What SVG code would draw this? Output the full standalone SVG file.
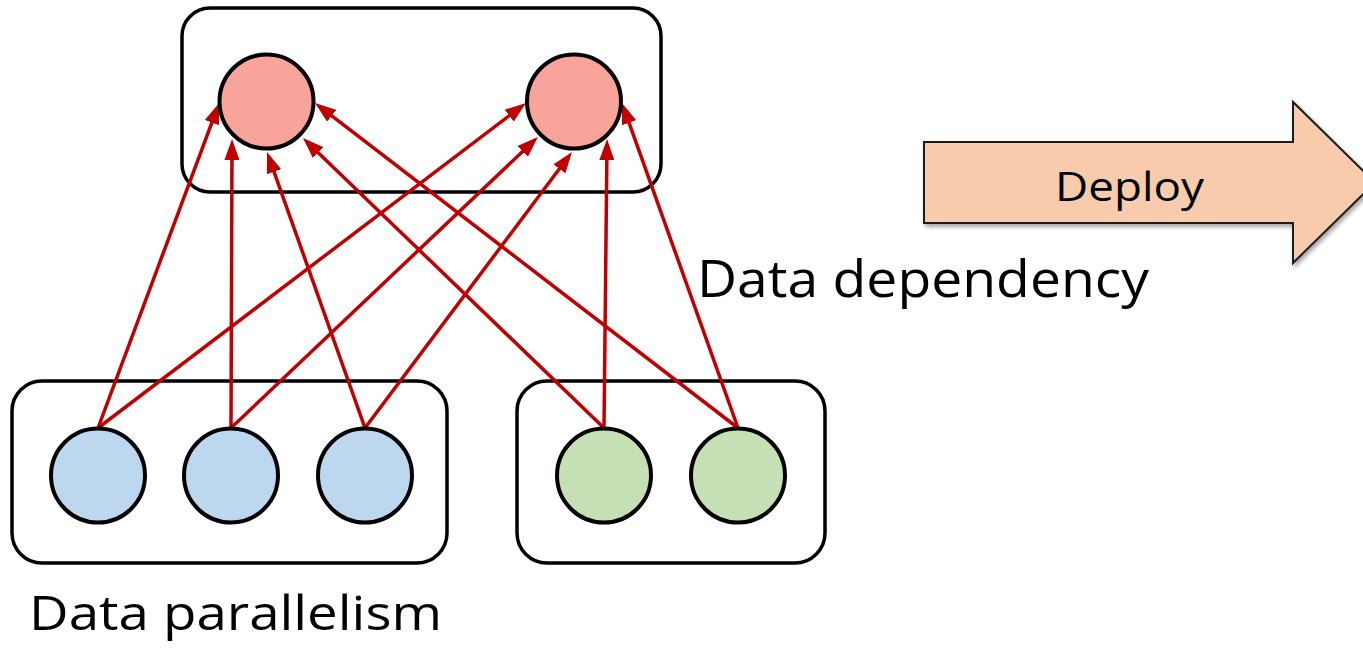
<svg xmlns="http://www.w3.org/2000/svg" width="1363" height="648" viewBox="0 0 1363 648">
  <style>
    .box { fill: #ffffff; stroke: #000000; stroke-width: 3.5; }
    .node { stroke: #000000; stroke-width: 4; }
    .out { fill: #F8A49B; }
    .dp { fill: #BDD7EE; }
    .mp { fill: #C5E0B4; }
    .edge { stroke: #C00000; stroke-width: 3.5; fill: none; marker-end: url(#head); }
    .label { font-family: "Open Sans", "Liberation Sans", sans-serif; fill: #000000; }
  </style>
  <defs>
    <marker id="head" viewBox="0 0 21 15" refX="15" refY="7.5" markerWidth="21" markerHeight="15" markerUnits="userSpaceOnUse" orient="auto">
      <path d="M0,0 L21,7.5 L0,15 z" fill="#C00000"/>
    </marker>
    <filter id="shadow" x="-5%" y="-10%" width="115%" height="130%">
      <feDropShadow dx="2" dy="3" stdDeviation="2" flood-color="#000000" flood-opacity="0.35"/>
    </filter>
  </defs>

  <!-- group frames -->
  <g id="output-group">
    <rect class="box" x="182" y="8" width="479" height="184" rx="28"/>
  </g>
  <g id="data-parallel-group">
    <rect class="box" x="12" y="381" width="435" height="182" rx="30"/>
  </g>
  <g id="model-group">
    <rect class="box" x="517" y="381" width="308" height="182" rx="30"/>
  </g>

  <!-- dependency edges -->
  <g id="connectors">
    <line class="edge" x1="98" y1="428" x2="217.1" y2="108.6"/>
    <line class="edge" x1="98" y1="428" x2="521.2" y2="106.6"/>
    <line class="edge" x1="231" y1="428" x2="232" y2="145"/>
    <line class="edge" x1="231" y1="428" x2="533.6" y2="141.1"/>
    <line class="edge" x1="365" y1="428" x2="269" y2="157.6"/>
    <line class="edge" x1="365" y1="428" x2="568.4" y2="156.8"/>
    <line class="edge" x1="604" y1="428" x2="307.3" y2="142.2"/>
    <line class="edge" x1="604" y1="428" x2="607" y2="145"/>
    <line class="edge" x1="738" y1="428" x2="319.8" y2="106.6"/>
    <line class="edge" x1="738" y1="428" x2="624" y2="108.6"/>
  </g>

  <!-- output nodes -->
  <g id="out-1"><circle class="node out" cx="266.5" cy="101.5" r="47"/></g>
  <g id="out-2"><circle class="node out" cx="574" cy="101.5" r="47"/></g>

  <!-- data-parallel nodes -->
  <g id="dp-1"><circle class="node dp" cx="98" cy="475.5" r="47"/></g>
  <g id="dp-2"><circle class="node dp" cx="231" cy="475.5" r="47"/></g>
  <g id="dp-3"><circle class="node dp" cx="365" cy="475.5" r="47"/></g>

  <!-- model nodes -->
  <g id="mp-1"><circle class="node mp" cx="604" cy="475.5" r="47"/></g>
  <g id="mp-2"><circle class="node mp" cx="738" cy="475.5" r="47"/></g>

  <!-- deploy arrow -->
  <g id="deploy">
    <polygon points="924,142 1293,142 1293,102 1375,182.5 1293,263 1293,223 924,223" fill="#F8CBAD" stroke="#1a1a1a" stroke-width="2" filter="url(#shadow)"/>
    <text class="label" x="1055" y="201" font-size="40" textLength="149" lengthAdjust="spacingAndGlyphs">Deploy</text>
  </g>

  <!-- captions -->
  <text id="dependency-label" class="label" x="697" y="297" font-size="52" textLength="452" lengthAdjust="spacingAndGlyphs">Data dependency</text>
  <text id="parallel-label" class="label" x="29" y="630" font-size="48" textLength="413" lengthAdjust="spacingAndGlyphs">Data parallelism</text>
</svg>
